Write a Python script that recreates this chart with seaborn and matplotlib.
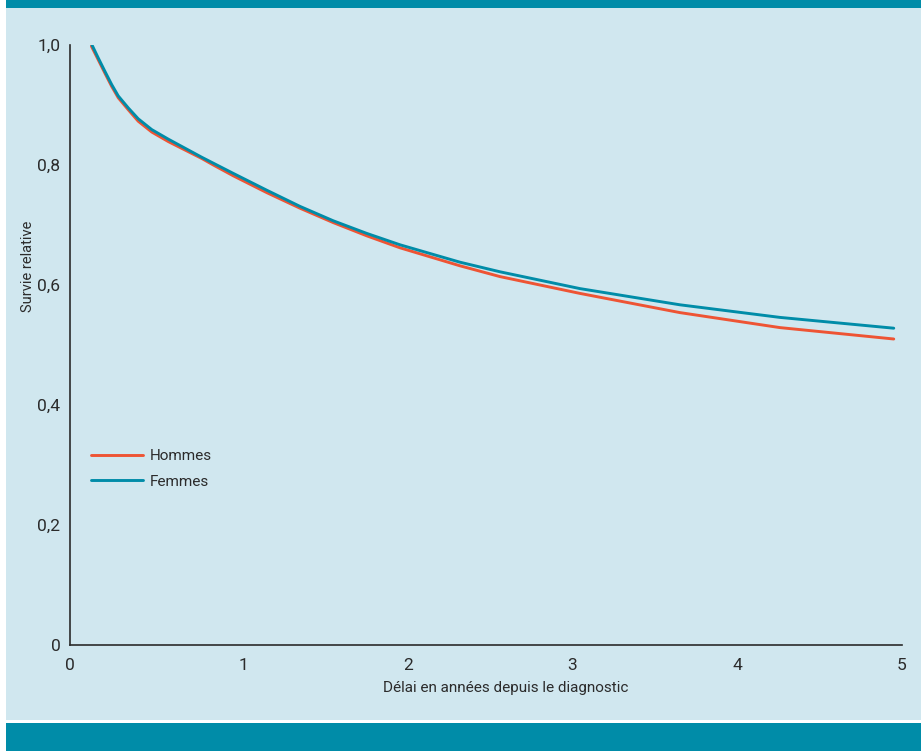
import pandas as pd
import matplotlib.pyplot as plt
import seaborn as sns
from matplotlib.patches import Rectangle

# délai en années et survie relative
delai = [0.08, 0.122, 0.162, 0.203, 0.243, 0.304, 0.364, 0.446, 0.547, 0.648,
         0.749, 0.820, 0.941, 1.144, 1.346, 1.548, 1.751, 1.953, 2.317, 2.560,
         3.045, 3.652, 4.259, 4.95]
hommes = [0.998, 0.975, 0.953, 0.931, 0.912, 0.892, 0.873, 0.855, 0.839, 0.825,
          0.811, 0.800, 0.782, 0.754, 0.728, 0.704, 0.682, 0.662, 0.632, 0.614,
          0.586, 0.554, 0.529, 0.510]
femmes = [1.002, 0.978, 0.956, 0.934, 0.915, 0.895, 0.877, 0.859, 0.843, 0.828,
          0.813, 0.803, 0.786, 0.758, 0.731, 0.707, 0.686, 0.667, 0.638, 0.622,
          0.594, 0.567, 0.546, 0.528]

y_ticks = [0, 0.2, 0.4, 0.6, 0.8, 1.0]
y_labels = ["0", "0,2", "0,4", "0,6", "0,8", "1,0"]
x_labels = ["0", "1", "2", "3", "4", "5"]

df = pd.DataFrame({
    "delai": delai * 2,
    "survie": hommes + femmes,
    "sexe": ["Hommes"] * len(delai) + ["Femmes"] * len(delai),
})

teal = "#008ca8"
red = "#ee5434"
panel = "#d0e7ef"
ink = "#2b2b2b"

sns.set_style("white")
plt.rcParams["font.family"] = ["Roboto", "DejaVu Sans"]

W, H = 921, 751
fig = plt.figure(figsize=(W / 100, H / 100), dpi=100)
fig.patch.set_facecolor("white")
fig.add_artist(Rectangle((6 / W, (H - 720) / H), 1, (720 - 8) / H, lw=0,
                         transform=fig.transFigure, color=panel, zorder=0))
fig.add_artist(Rectangle((6 / W, (H - 8) / H), 1, 8 / H, lw=0,
                         transform=fig.transFigure, color=teal, zorder=0))
fig.add_artist(Rectangle((6 / W, 0), 1, (H - 723) / H, lw=0,
                         transform=fig.transFigure, color=teal, zorder=0))

ax = fig.add_axes([70 / W, (H - 645) / H, 832 / W, 600 / H])
ax.set_facecolor("none")

sns.lineplot(data=df, x="delai", y="survie", hue="sexe",
             palette={"Hommes": red, "Femmes": teal}, linewidth=2.1, ax=ax)

x0 = -(78.25 - 70) / 164.75
ax.set_xlim(x0, 5)
ax.set_ylim(0, 1.0)
ax.set_xticks([x0, 1, 2, 3, 4, 5])
ax.set_xticklabels(x_labels)
ax.set_yticks(y_ticks)
ax.set_yticklabels(y_labels)

for s in ["top", "right"]:
    ax.spines[s].set_visible(False)
for s in ["left", "bottom"]:
    ax.spines[s].set_color(ink)
    ax.spines[s].set_linewidth(1.2)
ax.tick_params(axis="both", direction="out", length=6, width=1.2, color=ink,
               labelcolor=ink, labelsize=12.5, pad=1)
ax.tick_params(axis="x", pad=3)

ax.set_xlabel("Délai en années depuis le diagnostic", fontsize=11, color=ink)
ax.set_ylabel("Survie relative", fontsize=10.5, color=ink)
ax.xaxis.set_label_coords((506 - 70) / 832, -(688 - 645) / 600)
ax.yaxis.set_label_coords((28 - 70) / 832, (645 - 266) / 600)
ax.xaxis.label.set_va("center")
ax.yaxis.label.set_va("center")

handles, labels = ax.get_legend_handles_labels()
ax.legend(handles, labels, loc="center left", bbox_to_anchor=((91 - 70) / 832, (645 - 469) / 600),
          frameon=False, fontsize=11, handlelength=3.4, handletextpad=0.45,
          labelspacing=0.75, labelcolor=ink, borderpad=0, borderaxespad=0)

fig.savefig("out.png", dpi=100, facecolor=fig.get_facecolor())
